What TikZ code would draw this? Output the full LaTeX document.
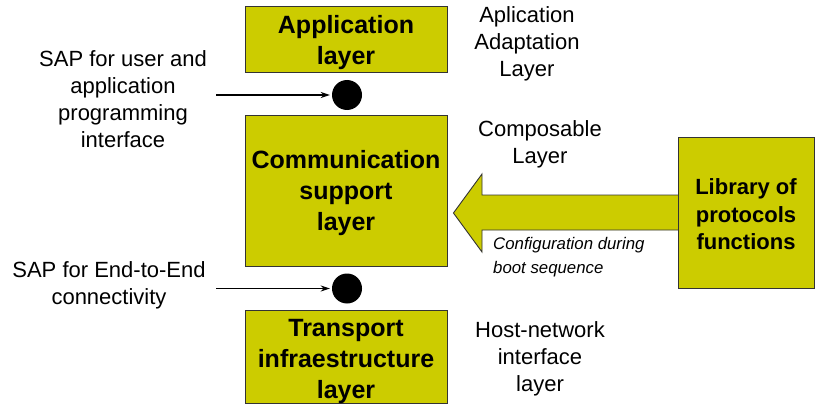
\documentclass[tikz,border=0pt]{standalone}
\usepackage{fontspec}
\setmainfont{Liberation Sans}
\usetikzlibrary{arrows.meta}
\definecolor{layerfill}{RGB}{204,204,0}
\begin{document}
\begin{tikzpicture}[x=1pt,y=-1pt,
  layer/.style={draw=black!80, line width=0.9pt, fill=layerfill, inner sep=0pt},
  layertext/.style={align=center, inner sep=0pt, font=\fontsize{25}{31}\selectfont\bfseries},
  sapdot/.style={circle, fill=black, minimum size=30pt, inner sep=0pt},
  note/.style={align=center, inner sep=0pt, font=\fontsize{22}{27}\selectfont},
  sapline/.style={line width=1.4pt, -{Stealth[length=9pt,width=6pt]}},
  cfgarrow/.style={draw=black!80, line width=0.9pt, fill=layerfill, line join=miter}]
\useasboundingbox (0,0) rectangle (817,404);

% protocol stack
\node[layer, minimum width=202pt, minimum height=66pt] (app) at (346,39) {};
\node[layer, minimum width=202pt, minimum height=151pt] (comm) at (346,190.5) {};
\node[layer, minimum width=202pt, minimum height=93pt] (trans) at (346,356.5) {};
\node[layertext] (apptext) at ([yshift=-4pt]app.center) {Application\\layer};
\node[layertext] (commtext) at ([yshift=-3pt]comm.center) {Communication\\support\\layer};
\node[layertext] (transtext) at ([yshift=-5pt]trans.center) {Transport\\infraestructure\\layer};

% service access points
\node[sapdot] (sapA) at (347,95) {};
\node[sapdot] (sapB) at (347,288.5) {};

% side annotations
\node[note] (sapAtext) at (123,99) {SAP for user and\\application\\programming\\interface};
\node[note] (sapBtext) at (109,285) {SAP for End-to-End\\connectivity};
\node[note] (adapt) at (527,44) {Aplication\\Adaptation\\Layer};
\node[note] (compos) at (540,144) {Composable\\Layer};
\node[note] (hostnet) at (540,359) {Host-network\\interface\\layer};

\coordinate (sapAstart) at (216,95);
\coordinate (sapBstart) at (216,288.5);
\draw[sapline] (sapAstart) -- ([xshift=-2pt]sapA.west);
\draw[sapline] (sapBstart) -- ([xshift=-2pt]sapB.west);

% configuration arrow from the protocol library
\coordinate (tip) at ([xshift=6pt]comm.east |- 0,213);
\coordinate (libedge) at (678,213);
\draw[cfgarrow] ([yshift=18pt]libedge) -- (482,195) -- (482,174) -- (tip) -- (482,252) -- (482,230) -- ([yshift=-17pt]libedge);
\node[layer, minimum width=136pt, minimum height=151pt] (lib) at (746,212.5) {};
\node[layertext, font=\fontsize{22}{27.5}\selectfont\bfseries] (libtext) at ([yshift=-2pt]lib.center) {Library of\\protocols\\functions};
\node[align=left, anchor=west, inner sep=0pt, font=\fontsize{16.8}{24}\selectfont\itshape] (cfg) at (493,257) {Configuration during\\boot sequence};
\end{tikzpicture}
\end{document}
